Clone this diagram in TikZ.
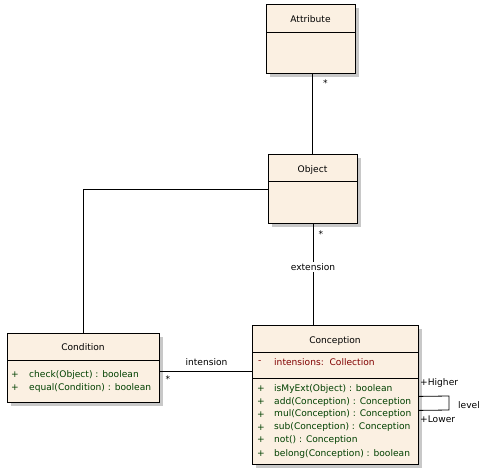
\documentclass[tikz,border=0pt]{standalone}
\usepackage{fontspec}
\setmainfont{DejaVu Sans}
\definecolor{boxfill}{RGB}{251,240,226}
\definecolor{shadowc}{RGB}{200,200,200}
\definecolor{methc}{RGB}{0,64,0}
\definecolor{attc}{RGB}{128,0,0}
\begin{document}
\begin{tikzpicture}[x=1pt,y=-1pt,
  cls/.style={draw=black, fill=boxfill, line width=0.8pt, inner sep=0pt, anchor=north west},
  shad/.style={fill=shadowc},
  ttl/.style={font=\fontsize{9.1}{10}\selectfont, inner sep=0pt},
  row/.style={font=\fontsize{9.1}{10}\selectfont, inner sep=0pt, anchor=west, text=methc},
  arow/.style={font=\fontsize{9.1}{10}\selectfont, inner sep=0pt, anchor=west, text=attc},
  lbl/.style={font=\fontsize{9.1}{10}\selectfont, inner sep=0pt},
  conn/.style={line width=0.8pt}]
\useasboundingbox (0,0) rectangle (495,474);
\fill[white] (0,0) rectangle (495,474);
% Attribute
\fill[shad] (270,8) rectangle (359,77);
\node[cls, minimum width=89pt, minimum height=69pt] (attr) at (266,4) {};
\draw[conn] (266,32) -- (355,32);
\node[ttl] (attrT) at (310.5,19.5) {Attribute};
% Object
\fill[shad] (272,158) rectangle (361,227);
\node[cls, minimum width=89pt, minimum height=69pt] (obj) at (268,154) {};
\draw[conn] (268,181) -- (357,181);
\node[ttl] (objT) at (312.5,169.5) {Object};
% Condition
\fill[shad] (11,337) rectangle (163,406);
\node[cls, minimum width=152pt, minimum height=69pt] (cond) at (7,333) {};
\draw[conn] (7,360) -- (159,360);
\node[ttl] (condT) at (83,347.5) {Condition};
\node[row] (c1p) at (11,375) {+};
\node[row] (c1) at (29,375) {check(Object) : boolean};
\node[row] (c2p) at (11,388) {+};
\node[row] (c2) at (29,388) {equal(Condition) : boolean};
% Conception
\fill[shad] (256,329) rectangle (422,468);
\node[cls, minimum width=166pt, minimum height=139pt] (conc) at (252,325) {};
\draw[conn] (252,352) -- (418,352);
\draw[conn] (252,378) -- (418,378);
\node[ttl] (concT) at (335,340.5) {Conception};
\node[arow] (a1m) at (258,362.5) {-};
\node[arow] (a1) at (274,362.5) {intensions:\ \ Collection};
\node[row] (m1p) at (257,389) {+};
\node[row] (m1) at (274,389) {isMyExt(Object) : boolean};
\node[row] (m2p) at (257,401.7) {+};
\node[row] (m2) at (274,401.7) {add(Conception) : Conception};
\node[row] (m3p) at (257,414.3) {+};
\node[row] (m3) at (274,414.3) {mul(Conception) : Conception};
\node[row] (m4p) at (257,427.3) {+};
\node[row] (m4) at (274,427.3) {sub(Conception) : Conception};
\node[row] (m5p) at (257,440) {+};
\node[row] (m5) at (274,440) {not() : Conception};
\node[row] (m6p) at (257,453.7) {+};
\node[row] (m6) at (274,453.7) {belong(Conception) : boolean};
% connectors
\draw[conn] ([xshift=1.5pt]attr.south) -- ([xshift=1.5pt]attr.south |- obj.north);
\node[lbl] (attrStar) at (325.5,83) {*};
\draw[conn] (obj.south) -- (obj.south |- conc.north);
\node[lbl] (objStar) at (321,234) {*};
\node[lbl, fill=white, inner sep=1.5pt] (ext) at (313,267) {extension};
\draw[conn] (cond.north) |- (obj.west);
\draw[conn] ([yshift=-3pt]cond.east) -- ([yshift=-3pt]cond.east -| conc.west);
\node[lbl] (intn) at (206.5,362.5) {intension};
\node[lbl] (condStar) at (168,379) {*};
\coordinate (lpA) at (449,396);
\coordinate (lpB) at (449,410);
\draw[conn] ([yshift=-1.5pt]conc.east) -- (lpA) -- (lpB) -- ([yshift=-15.5pt]conc.east);
\node[lbl, anchor=west] (hi) at (420,382.5) {+Higher};
\node[lbl, anchor=west] (lo) at (420,419.5) {+Lower};
\node[lbl, anchor=west] (lvl) at (458,405) {level};
\end{tikzpicture}
\end{document}
